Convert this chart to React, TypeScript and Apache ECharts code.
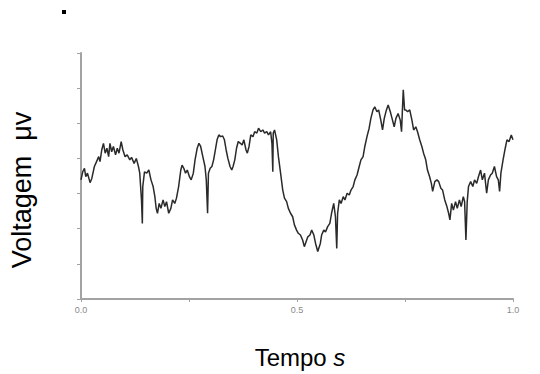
import React, { useEffect, useRef } from "react";
import * as echarts from "echarts";

const timeValues: number[] = [
  0, 0.004, 0.008, 0.011, 0.015, 0.021, 0.025, 0.031, 0.036, 0.041, 0.044, 0.048, 0.052, 0.056, 0.06, 0.064, 0.067, 0.071, 0.075, 0.08,
  0.084, 0.088, 0.093, 0.097, 0.102, 0.107, 0.113, 0.117, 0.123, 0.128, 0.133, 0.136, 0.14, 0.142, 0.143, 0.147, 0.152, 0.157, 0.162, 0.167,
  0.171, 0.174, 0.177, 0.181, 0.185, 0.19, 0.194, 0.198, 0.203, 0.208, 0.212, 0.217, 0.221, 0.226, 0.231, 0.234, 0.238, 0.242, 0.246, 0.251,
  0.255, 0.26, 0.264, 0.269, 0.273, 0.277, 0.282, 0.287, 0.29, 0.293, 0.295, 0.299, 0.303, 0.307, 0.311, 0.315, 0.319, 0.323, 0.328, 0.332,
  0.336, 0.34, 0.345, 0.349, 0.352, 0.356, 0.36, 0.364, 0.369, 0.373, 0.377, 0.382, 0.385, 0.389, 0.393, 0.398, 0.402, 0.407, 0.411, 0.416,
  0.421, 0.425, 0.43, 0.434, 0.439, 0.442, 0.444, 0.445, 0.448, 0.453, 0.457, 0.462, 0.467, 0.471, 0.476, 0.48, 0.485, 0.49, 0.494, 0.499,
  0.503, 0.508, 0.513, 0.517, 0.521, 0.525, 0.53, 0.534, 0.539, 0.543, 0.548, 0.554, 0.557, 0.562, 0.566, 0.571, 0.576, 0.58, 0.585, 0.589,
  0.592, 0.594, 0.598, 0.602, 0.607, 0.611, 0.616, 0.621, 0.625, 0.63, 0.634, 0.639, 0.644, 0.648, 0.653, 0.657, 0.662, 0.667, 0.671, 0.676,
  0.68, 0.685, 0.689, 0.694, 0.698, 0.702, 0.707, 0.711, 0.716, 0.72, 0.725, 0.729, 0.734, 0.739, 0.742, 0.744, 0.746, 0.749, 0.752, 0.756,
  0.761, 0.766, 0.77, 0.775, 0.779, 0.784, 0.789, 0.793, 0.798, 0.802, 0.807, 0.811, 0.814, 0.819, 0.824, 0.828, 0.833, 0.837, 0.842, 0.847,
  0.851, 0.854, 0.858, 0.862, 0.867, 0.871, 0.876, 0.88, 0.885, 0.888, 0.891, 0.894, 0.897, 0.902, 0.907, 0.911, 0.916, 0.92, 0.925, 0.929,
  0.934, 0.939, 0.943, 0.948, 0.952, 0.957, 0.962, 0.966, 0.969, 0.972, 0.977, 0.982, 0.986, 0.991, 0.996, 1.0,
];

const voltageValues: number[] = [
  3.39, 3.62, 3.72, 3.48, 3.58, 3.31, 3.43, 3.77, 3.91, 4.05, 3.91, 4.24, 4.43, 4.15, 4.29, 4.05, 4.43, 4.19, 4.34, 4.1,
  4.29, 4.15, 4.48, 4.24, 4.05, 4.1, 3.96, 4.03, 3.86, 4.0, 3.77, 3.58, 2.82, 2.15, 3.2, 3.62, 3.58, 3.67, 3.39, 3.2,
  2.91, 2.58, 2.44, 2.72, 2.58, 2.82, 2.63, 2.77, 2.44, 2.58, 2.82, 2.72, 2.87, 3.2, 3.67, 3.81, 3.72, 3.58, 3.67, 3.48,
  3.39, 3.58, 3.96, 4.29, 4.43, 4.34, 4.05, 3.77, 3.39, 2.44, 3.58, 3.72, 3.77, 3.96, 4.24, 4.53, 4.67, 4.62, 4.64, 4.53,
  4.24, 4.0, 3.77, 3.67, 3.77, 3.96, 4.29, 4.48, 4.43, 4.38, 4.53, 4.24, 4.15, 4.34, 4.67, 4.62, 4.76, 4.72, 4.86, 4.76,
  4.81, 4.72, 4.76, 4.67, 4.76, 4.43, 3.62, 4.72, 4.81, 4.53, 4.05, 3.58, 3.1, 2.87, 2.77, 2.58, 2.44, 2.34, 2.11, 1.96,
  1.87, 1.82, 1.68, 1.49, 1.63, 1.77, 1.82, 1.96, 1.82, 1.58, 1.35, 1.58, 1.82, 1.96, 1.91, 2.06, 2.15, 2.44, 2.72, 2.34,
  1.44, 2.44, 2.82, 2.72, 2.91, 2.82, 3.01, 2.96, 3.1, 3.2, 3.39, 3.53, 3.77, 3.96, 4.05, 4.34, 4.62, 4.86, 5.14, 5.38,
  5.47, 5.33, 5.38, 5.09, 4.81, 5.14, 5.38, 5.52, 5.33, 5.14, 4.9, 5.14, 5.28, 5.09, 4.76, 5.38, 5.95, 5.38, 5.38, 5.33,
  5.38, 5.09, 4.81, 4.9, 4.76, 4.53, 4.34, 4.15, 3.96, 3.67, 3.48, 3.29, 3.06, 3.34, 3.39, 3.34, 3.15, 3.1, 2.82, 2.63,
  2.44, 2.25, 2.72, 2.53, 2.77, 2.58, 2.82, 2.63, 2.91, 2.77, 1.68, 2.77, 3.2, 3.34, 3.2, 3.39, 3.29, 3.48, 3.67, 3.39,
  3.58, 3.01, 3.39, 3.53, 3.58, 3.77, 3.48, 3.39, 3.06, 3.58, 3.96, 4.29, 4.53, 4.48, 4.67, 4.53,
];

const xTickLabels: Record<string, string> = { "0": "0.0", "0.5": "0.5", "1": "1.0" };

const yAxisTitle = "Voltagem  μv";
const xAxisTitleMain = "Tempo ";
const xAxisTitleUnit = "s";

export default function App() {
  const ref = useRef<HTMLDivElement>(null);

  useEffect(() => {
    if (!ref.current) return;
    const chart = echarts.init(ref.current, null, { renderer: "svg" });
    const data = timeValues.map((t, i) => [t, voltageValues[i]]);
    const axisColor = "#a3a3a3";
    chart.setOption({
      animation: false,
      backgroundColor: "#ffffff",
      grid: { left: 81, right: 27, top: 53, bottom: 75, containLabel: false },
      xAxis: {
        type: "value",
        min: 0,
        max: 1,
        interval: 0.25,
        axisLine: { show: true, lineStyle: { color: axisColor, width: 2 } },
        axisTick: { show: true, length: 3, lineStyle: { color: axisColor, width: 1 } },
        splitLine: { show: false },
        axisLabel: {
          show: true,
          color: "#8a8a8a",
          fontSize: 9,
          margin: 6,
          fontFamily: "Liberation Sans, Arial, sans-serif",
          formatter: (v: number) => xTickLabels[String(v)] ?? "",
        },
      },
      yAxis: {
        type: "value",
        min: 0,
        max: 7,
        interval: 1,
        axisLine: { show: true, lineStyle: { color: axisColor, width: 2 } },
        axisTick: { show: true, length: 4, lineStyle: { color: axisColor, width: 1 } },
        splitLine: { show: false },
        axisLabel: { show: false },
      },
      series: [
        {
          type: "line",
          data,
          showSymbol: false,
          symbol: "none",
          lineStyle: { color: "#2a2a2a", width: 1.5 },
        },
      ],
      graphic: [
        {
          type: "rect",
          shape: { x: 62, y: 10, width: 4, height: 4 },
          style: { fill: "#000000" },
        },
        {
          type: "text",
          x: 22,
          y: 190,
          rotation: Math.PI / 2,
          style: {
            text: yAxisTitle,
            fill: "#000000",
            fontSize: 27,
            fontFamily: "Liberation Sans, Arial, sans-serif",
            align: "center",
            verticalAlign: "middle",
          },
        },
        {
          type: "text",
          x: 300,
          y: 357,
          style: {
            text: "{a|" + xAxisTitleMain + "}{b|" + xAxisTitleUnit + "}",
            align: "center",
            verticalAlign: "middle",
            rich: {
              a: { fontSize: 24, fill: "#000000", fontFamily: "Liberation Sans, Arial, sans-serif" },
              b: { fontSize: 24, fill: "#000000", fontStyle: "italic", fontFamily: "Liberation Sans, Arial, sans-serif" },
            },
          },
        },
      ],
    });
    return () => chart.dispose();
  }, []);

  return (
    <div
      ref={ref}
      style={{ position: "absolute", left: 0, top: 0, width: 540, height: 374, background: "#fff" }}
    />
  );
}
